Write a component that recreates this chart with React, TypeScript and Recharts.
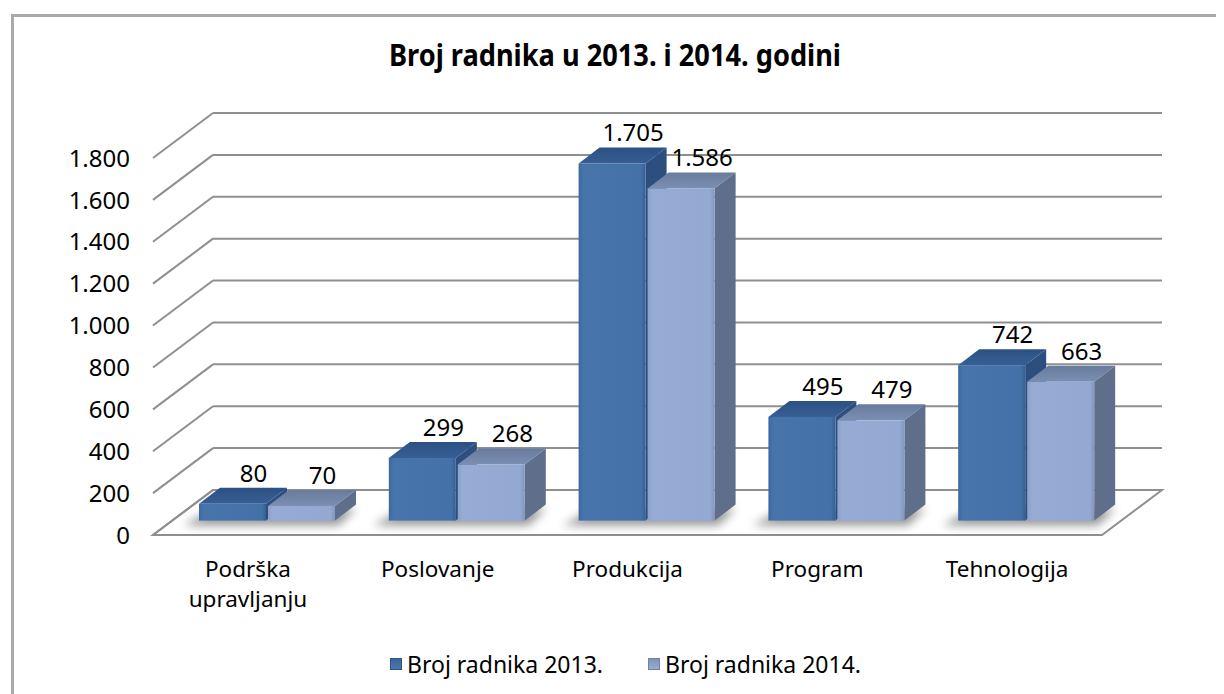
import React from 'react';
import { BarChart, Bar, XAxis, YAxis, LabelList } from 'recharts';

const categories = ['Podrška upravljanju', 'Poslovanje', 'Produkcija', 'Program', 'Tehnologija'];
const workers2013 = [80, 299, 1705, 495, 742];
const workers2014 = [70, 268, 1586, 479, 663];
const seriesNames = ['Broj radnika 2013.', 'Broj radnika 2014.'];
const yTicks = [0, 200, 400, 600, 800, 1000, 1200, 1400, 1600, 1800];

const data = categories.map((name, i) => ({
  name,
  y2013: workers2013[i],
  y2014: workers2014[i],
}));

const W = 1216;
const H = 686;
const FONT = "'Noto Sans', sans-serif";

// front plane of the bars = recharts plot area
const PLOT = { left: 164, right: 1113, top: 135.6, bottom: 512.6 };
const TO_BACK = { x: 41, y: -30.6 };
const TO_FRONT = { x: -19, y: 14.4 };
const DEPTH = { x: 21, y: -16 };
const GRID = '#8f8f8f';
const Y_AXIS_W = 100;
const X_AXIS_H = 80;
const MARGIN = { top: PLOT.top, right: W - PLOT.right, bottom: H - PLOT.bottom - X_AXIS_H, left: PLOT.left - Y_AXIS_W };

const fmt = (v: number) =>
  v >= 1000 ? `${Math.floor(v / 1000)}.${String(v % 1000).padStart(3, '0')}` : String(v);

const palette = {
  dark: { front: 'url(#gDark)', top: 'url(#gDarkTop)', side: '#2c4f7f' },
  light: { front: 'url(#gLight)', top: 'url(#gLightTop)', side: '#5e6e8b' },
};

// back wall, floor and diagonals, drawn under the bars
const YTick = (props: any) => {
  const { y, payload } = props;
  const bx = PLOT.left + TO_BACK.x;
  const by = y + TO_BACK.y;
  const fx = PLOT.left + TO_FRONT.x;
  const fy = y + TO_FRONT.y;
  const rx = PLOT.right + TO_BACK.x;
  const frx = PLOT.right + TO_FRONT.x;
  return (
    <g>
      {payload.value === 0 && (
        <polygon
          points={`${bx},${by} ${rx},${by} ${frx},${fy} ${fx},${fy}`}
          fill="#fff"
          stroke={GRID}
          strokeWidth={2}
        />
      )}
      <line x1={fx} y1={fy} x2={bx} y2={by} stroke={GRID} strokeWidth={2} />
      <line x1={bx} y1={by} x2={rx} y2={by} stroke={GRID} strokeWidth={2} />
      <text x={fx - 23} y={fy} dy="0.36em" textAnchor="end" fontSize={24} fill="#000" fontFamily={FONT}>
        {fmt(payload.value)}
      </text>
    </g>
  );
};

const XTick = (props: any) => {
  const { x, payload } = props;
  const lines = String(payload.value).split(' ');
  return (
    <g>
      {lines.map((l, i) => (
        <text
          key={i}
          x={x + TO_FRONT.x}
          y={PLOT.bottom + 56 + i * 30}
          textAnchor="middle"
          fontSize={22.5}
          fill="#000"
          fontFamily={FONT}
        >
          {l}
        </text>
      ))}
    </g>
  );
};

const makeShape = (kind: 'dark' | 'light') => (props: any) => {
  const { x, y, width: w, height: h } = props;
  const c = palette[kind];
  const dx = DEPTH.x;
  const dy = DEPTH.y;
  const b = y + h;
  return (
    <g>
      {kind === 'dark' && (
        <polygon
          points={`${x - 16},${b + 5} ${x + 2 * w + 2 + 4},${b + 5} ${x + 2 * w + 2 + dx},${b + dy + 4} ${x + dx - 6},${b + dy + 4}`}
          fill="#000"
          opacity={0.4}
          filter="url(#blurShadow)"
        />
      )}
      <polygon points={`${x},${y} ${x + dx},${y + dy} ${x + w + dx},${y + dy} ${x + w},${y}`} fill={c.top} />
      <polygon points={`${x + w},${y} ${x + w + dx},${y + dy} ${x + w + dx},${b + dy} ${x + w},${b}`} fill={c.side} />
      <rect x={x} y={y} width={w} height={h} fill={c.front} />
    </g>
  );
};

const NoShape = () => <g />;

const ValueLabel = (props: any) => {
  const { x, y, width, value } = props;
  return (
    <text x={x + width / 2 + DEPTH.x} y={y + DEPTH.y - 6} textAnchor="middle" fontSize={24} fill="#000" fontFamily={FONT}>
      {fmt(value)}
    </text>
  );
};

export default function App() {
  return (
    <div style={{ position: 'relative', width: W, height: H, background: '#fff', overflow: 'hidden' }}>
      <div
        style={{
          position: 'absolute',
          left: 3,
          top: 6,
          width: W + 20,
          height: H + 20,
          borderLeft: '3px solid #aaaaaa',
          borderTop: '3px solid #aaaaaa',
        }}
      />
      <svg style={{ position: 'absolute', left: 0, top: 0 }} width={W} height={80}>
        <text
          x={607}
          y={58}
          textAnchor="middle"
          fontSize={30}
          fontWeight="bold"
          fontFamily={FONT}
          textLength={452}
          lengthAdjust="spacingAndGlyphs"
          fill="#000"
        >
          Broj radnika u 2013. i 2014. godini
        </text>
      </svg>
      {/* layer 1: walls, floor and axis texts */}
      <div style={{ position: 'absolute', left: 0, top: 0 }}>
        <BarChart width={W} height={H} data={data} margin={MARGIN} barSize={67} barGap={2}>
          <YAxis
            width={Y_AXIS_W}
            domain={[0, 1800]}
            ticks={yTicks}
            interval={0}
            axisLine={false}
            tickLine={false}
            tick={<YTick />}
          />
          <XAxis dataKey="name" height={X_AXIS_H} axisLine={false} tickLine={false} interval={0} tick={<XTick />} />
          <Bar dataKey="y2013" shape={<NoShape />} isAnimationActive={false} />
          <Bar dataKey="y2014" shape={<NoShape />} isAnimationActive={false} />
        </BarChart>
      </div>
      {/* layer 2: 3d bars */}
      <div style={{ position: 'absolute', left: 0, top: 0 }}>
        <BarChart width={W} height={H} data={data} margin={MARGIN} barSize={67} barGap={2}>
          <defs>
            <linearGradient id="gDark" x1="0" y1="0" x2="1" y2="0">
              <stop offset="0" stopColor="#3d689d" />
              <stop offset="0.07" stopColor="#4674ab" />
              <stop offset="0.93" stopColor="#4472a8" />
              <stop offset="1" stopColor="#385f92" />
            </linearGradient>
            <linearGradient id="gLight" x1="0" y1="0" x2="1" y2="0">
              <stop offset="0" stopColor="#8ca1ca" />
              <stop offset="0.07" stopColor="#97acd4" />
              <stop offset="0.93" stopColor="#94a9d1" />
              <stop offset="1" stopColor="#8497bd" />
            </linearGradient>
            <linearGradient id="gDarkTop" x1="0" y1="0" x2="0" y2="1">
              <stop offset="0" stopColor="#2c5183" />
              <stop offset="1" stopColor="#375f95" />
            </linearGradient>
            <linearGradient id="gLightTop" x1="0" y1="0" x2="0" y2="1">
              <stop offset="0" stopColor="#687b9c" />
              <stop offset="1" stopColor="#7b8fb2" />
            </linearGradient>
            <filter id="blurShadow" x="-20%" y="-100%" width="140%" height="300%">
              <feGaussianBlur stdDeviation="5" />
            </filter>
          </defs>
          <YAxis width={Y_AXIS_W} domain={[0, 1800]} ticks={yTicks} axisLine={false} tickLine={false} tick={false} />
          <XAxis dataKey="name" height={X_AXIS_H} axisLine={false} tickLine={false} tick={false} />
          <Bar dataKey="y2013" name={seriesNames[0]} shape={makeShape('dark')} isAnimationActive={false}>
            <LabelList dataKey="y2013" content={<ValueLabel />} />
          </Bar>
          <Bar dataKey="y2014" name={seriesNames[1]} shape={makeShape('light')} isAnimationActive={false}>
            <LabelList dataKey="y2014" content={<ValueLabel />} />
          </Bar>
        </BarChart>
      </div>
      {seriesNames.map((n, i) => (
        <div
          key={n}
          style={{
            position: 'absolute',
            left: i === 0 ? 382 : 640,
            top: 640,
            display: 'flex',
            alignItems: 'center',
            fontFamily: FONT,
            fontSize: 23,
            color: '#000',
            whiteSpace: 'nowrap',
          }}
        >
          <span
            style={{
              display: 'inline-block',
              width: 12,
              height: 12,
              marginRight: 5,
              background: i === 0 ? 'linear-gradient(#3b6598, #4a78b0)' : 'linear-gradient(#7f93b8, #9aaed6)',
              boxShadow: `inset 0 0 0 1px ${i === 0 ? '#2f5689' : '#6f82a3'}`,
            }}
          />
          {n}
        </div>
      ))}
    </div>
  );
}
